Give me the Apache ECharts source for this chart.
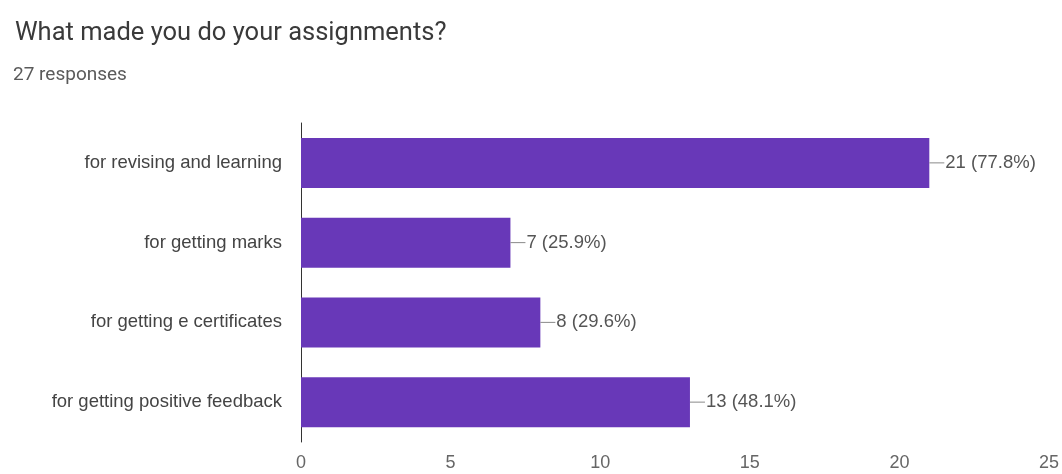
<!DOCTYPE html>
<html><head><meta charset="utf-8">
<script src="https://cdn.jsdelivr.net/npm/echarts@6/dist/echarts.min.js"></script>
<style>html,body{margin:0;padding:0;background:#fff}#c{width:1062px;height:474px}</style>
</head><body><div id="c"></div>
<script>
const titleText = 'What made you do your assignments?';
const subtitleText = '27 responses';
const totalResponses = 27;
const categories = ['for revising and learning', 'for getting marks', 'for getting e certificates', 'for getting positive feedback'];
const counts = [21, 7, 8, 13];
const xTicks = [0, 5, 10, 15, 20, 25];

const chart = echarts.init(document.getElementById('c'));
chart.setOption({
  backgroundColor: '#fff',
  animation: false,
  title: [
    {text: titleText, left: 10, top: 16, textStyle: {fontFamily: 'Roboto', fontSize: 25.5, fontWeight: 'normal', color: '#3a3a3a'}},
    {text: subtitleText, left: 8, top: 61, textStyle: {fontFamily: 'Roboto', fontSize: 19, fontWeight: 'normal', color: '#5a5a5a'}}
  ],
  grid: {left: 301, right: 11, top: 123, bottom: 32, containLabel: false},
  xAxis: {
    type: 'value', min: xTicks[0], max: xTicks[xTicks.length - 1], interval: 5,
    axisLine: {show: false}, axisTick: {show: false}, splitLine: {show: false},
    axisLabel: {fontFamily: 'Liberation Sans', fontSize: 18, color: '#666', margin: 12}
  },
  yAxis: {
    type: 'category', data: categories, inverse: true,
    axisLine: {show: true, lineStyle: {color: '#333', width: 1}},
    axisTick: {show: false},
    axisLabel: {fontFamily: 'Liberation Sans', fontSize: 18.5, color: '#444', margin: 19}
  },
  series: [{
    type: 'bar', data: counts, barWidth: 50,
    itemStyle: {color: '#6838b8'},
    label: {
      show: true, position: 'right', distance: 0,
      formatter: p => '{l|}{t|' + p.value + ' (' + (p.value / totalResponses * 100).toFixed(1) + '%)}',
      rich: {
        l: {width: 15, height: 1, backgroundColor: '#888'},
        t: {fontFamily: 'Liberation Sans', fontSize: 18.5, color: '#555', padding: [0, 0, 0, 1]}
      }
    }
  }]
});
</script></body></html>
